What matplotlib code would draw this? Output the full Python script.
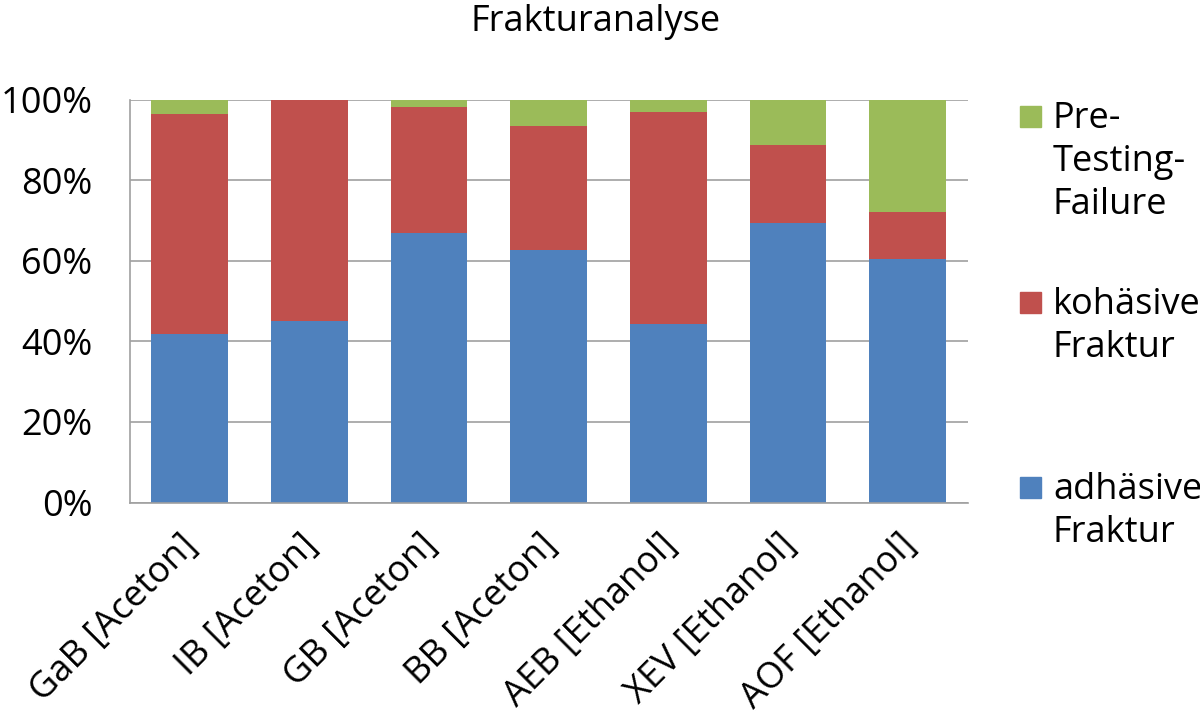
import matplotlib
matplotlib.use('Agg')
import matplotlib.pyplot as plt
import matplotlib.transforms as mtransforms
import numpy as np
from matplotlib.patches import Rectangle

plt.rcParams['font.family'] = ['Open Sans', 'DejaVu Sans']

categories = ['GaB [Aceton]', 'IB [Aceton]', 'GB [Aceton]', 'BB [Aceton]',
              'AEB [Ethanol]', 'XEV [Ethanol]', 'AOF [Ethanol]']
# shares in percent
adhaesiv = [41.8, 45.1, 67.0, 62.7, 44.3, 69.4, 60.5]
kohaesiv = [54.5, 54.9, 31.2, 30.8, 52.5, 19.3, 11.7]
pretest = [3.7, 0.0, 1.8, 6.5, 3.2, 11.3, 27.8]

series = [
    ('adhäsive\nFraktur', adhaesiv, '#4F81BD'),
    ('kohäsive\nFraktur', kohaesiv, '#C0504D'),
    ('Pre-\nTesting-\nFailure', pretest, '#9BBB59'),
]

FS = 26

fig = plt.figure(figsize=(12, 7.19), dpi=100)
ax = fig.add_axes([0.1083, 0.301, 0.698, 0.5605])

x = np.arange(len(categories))
bottom = np.zeros(len(categories))
for label, vals, color in series:
    ax.bar(x, vals, 0.64, bottom=bottom, color=color, zorder=2)
    bottom += np.array(vals)

ax.set_xlim(-0.5, len(categories) - 0.5)
ax.set_ylim(0, 100)
ax.set_yticks(range(0, 101, 20))
ax.set_yticklabels([f'{v}%' for v in range(0, 101, 20)], fontsize=FS)
ax.set_xticks(x)
ax.set_xticklabels(categories, rotation=45, ha='right', rotation_mode='anchor',
                   fontsize=FS)
ax.tick_params(axis='x', length=0, pad=18)
ax.tick_params(axis='y', length=0, pad=27)
# nudge the slanted labels a little to the left
shift = mtransforms.ScaledTranslation(-10 / 100, 0, fig.dpi_scale_trans)
for lbl in ax.get_xticklabels():
    lbl.set_transform(lbl.get_transform() + shift)
ax.yaxis.grid(True, color='#a0a0a0', linewidth=1.2, zorder=0)
ax.set_axisbelow(True)
for side in ['top', 'right']:
    ax.spines[side].set_visible(False)
for side in ['left', 'bottom']:
    ax.spines[side].set_color('#a0a0a0')
    ax.spines[side].set_linewidth(1.2)

fig.text(0.496, 0.97, 'Frakturanalyse', ha='center', va='center', fontsize=FS)

# legend, drawn by hand so the swatch sits beside the first text line
legend_y = [488, 303, 117]
for (label, vals, color), yp in zip(series, legend_y):
    fig.patches.append(Rectangle((1020 / 1200, 1 - (yp + 10) / 719), 21 / 1200, 21 / 719,
                                 transform=fig.transFigure, color=color))
    fig.text(1053 / 1200, 1 - (yp - 16) / 719, label, ha='left', va='top',
             fontsize=FS, linespacing=1.25)

fig.savefig('out.png', dpi=100)
